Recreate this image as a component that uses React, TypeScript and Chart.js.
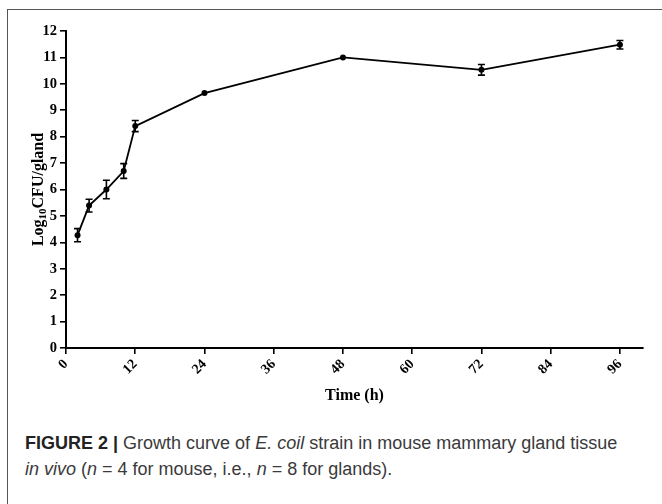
import React, { useEffect, useRef } from 'react';
import { Chart, registerables } from 'chart.js';

Chart.register(...registerables);

// ---- data ----
const timeHours = [2, 4, 7, 10, 12, 24, 48, 72, 96];
const logCfu = [4.27, 5.39, 6.0, 6.7, 8.4, 9.65, 11.0, 10.53, 11.48];
const errBars = [0.25, 0.24, 0.35, 0.28, 0.21, 0, 0, 0.2, 0.16];
const xTickValues = [0, 12, 24, 36, 48, 60, 72, 84, 96];
const yTickValues = [0, 1, 2, 3, 4, 5, 6, 7, 8, 9, 10, 11, 12];
const xTitle = 'Time (h)';
const yTitleParts = ['Log', '10', 'CFU/gland'];

const SERIF = '"Liberation Serif", "Times New Roman", serif';
const SANS = '"Liberation Sans", Arial, sans-serif';

const errorBarPlugin = {
  id: 'errorBars',
  afterDatasetsDraw(chart: any) {
    const ctx = chart.ctx;
    const meta = chart.getDatasetMeta(0);
    const yScale = chart.scales.y;
    ctx.save();
    ctx.strokeStyle = '#000';
    ctx.lineWidth = 1.6;
    meta.data.forEach((pt: any, i: number) => {
      const e = errBars[i];
      if (!e) return;
      const x = pt.x;
      const yTop = yScale.getPixelForValue(logCfu[i] + e);
      const yBot = yScale.getPixelForValue(logCfu[i] - e);
      const cap = 3.5;
      ctx.beginPath();
      ctx.moveTo(x, yTop);
      ctx.lineTo(x, yBot);
      ctx.moveTo(x - cap, yTop);
      ctx.lineTo(x + cap, yTop);
      ctx.moveTo(x - cap, yBot);
      ctx.lineTo(x + cap, yBot);
      ctx.stroke();
    });
    ctx.restore();
  },
};

const axisTitlePlugin = {
  id: 'axisTitles',
  afterDraw(chart: any) {
    const ctx = chart.ctx;
    const area = chart.chartArea;
    ctx.save();
    ctx.fillStyle = '#000';
    // x title
    ctx.font = `bold 16px ${SERIF}`;
    ctx.textAlign = 'center';
    ctx.textBaseline = 'middle';
    ctx.fillText(xTitle, (area.left + area.right) / 2, 387);
    // y title with subscript
    const big = `bold 16px ${SERIF}`;
    const small = `bold 11px ${SERIF}`;
    ctx.font = big;
    const w1 = ctx.measureText(yTitleParts[0]).width;
    const w3 = ctx.measureText(yTitleParts[2]).width;
    ctx.font = small;
    const w2 = ctx.measureText(yTitleParts[1]).width;
    const total = w1 + w2 + w3;
    ctx.translate(30, (area.top + area.bottom) / 2);
    ctx.rotate(-Math.PI / 2);
    ctx.textAlign = 'left';
    ctx.textBaseline = 'alphabetic';
    let x = -total / 2;
    ctx.font = big;
    ctx.fillText(yTitleParts[0], x, 4);
    x += w1;
    ctx.font = small;
    ctx.fillText(yTitleParts[1], x, 7);
    x += w2;
    ctx.font = big;
    ctx.fillText(yTitleParts[2], x, 4);
    ctx.restore();
  },
};

export default function App() {
  const canvasRef = useRef<HTMLCanvasElement | null>(null);

  useEffect(() => {
    const canvas = canvasRef.current;
    if (!canvas) return;
    const chart = new Chart(canvas, {
      type: 'line',
      data: {
        datasets: [
          {
            data: timeHours.map((t, i) => ({ x: t, y: logCfu[i] })),
            borderColor: '#000',
            borderWidth: 1.8,
            backgroundColor: '#000',
            pointRadius: 3,
            pointBackgroundColor: '#000',
            pointBorderWidth: 0,
            tension: 0,
          },
        ],
      },
      options: {
        animation: false,
        responsive: false,
        devicePixelRatio: 1,
        layout: { padding: { left: 0, right: 19, top: 22, bottom: 0 } },
        plugins: {
          legend: { display: false },
          tooltip: { enabled: false },
          title: { display: false },
        },
        scales: {
          x: {
            type: 'linear',
            min: 0,
            max: 100,
            afterBuildTicks: (scale: any) => {
              scale.ticks = xTickValues.map((v) => ({ value: v }));
            },
            afterFit: (scale: any) => {
              scale.height = 61;
            },
            border: { display: true, color: '#000', width: 2 },
            grid: {
              display: true,
              drawOnChartArea: false,
              drawTicks: true,
              tickLength: 6,
              color: '#000',
              lineWidth: 1.6,
            },
            ticks: {
              autoSkip: false,
              minRotation: 45,
              maxRotation: 45,
              padding: 2,
              color: '#000',
              font: { family: SERIF, size: 14, weight: 'bold' },
            },
          },
          y: {
            type: 'linear',
            min: 0,
            max: 12,
            afterBuildTicks: (scale: any) => {
              scale.ticks = yTickValues.map((v) => ({ value: v }));
            },
            afterFit: (scale: any) => {
              scale.width = 57;
            },
            border: { display: true, color: '#000', width: 2 },
            grid: {
              display: true,
              drawOnChartArea: false,
              drawTicks: true,
              tickLength: 6,
              color: '#000',
              lineWidth: 1.6,
            },
            ticks: {
              padding: 3,
              color: '#000',
              font: { family: SERIF, size: 14.5, weight: 'bold' },
            },
          },
        },
      },
      plugins: [errorBarPlugin, axisTitlePlugin],
    } as any);
    return () => chart.destroy();
  }, []);

  const captionStyle: React.CSSProperties = {
    position: 'absolute',
    left: 25,
    fontFamily: SANS,
    fontSize: 18,
    lineHeight: '22px',
    color: '#3a3a3a',
    whiteSpace: 'nowrap',
  };

  return (
    <div style={{ position: 'absolute', left: 0, top: 0, width: 662, height: 504, overflow: 'hidden', background: '#fff' }}>
      <canvas ref={canvasRef} width={653} height={400} style={{ position: 'absolute', left: 9, top: 9, width: 653, height: 400 }} />
      <div style={{ position: 'absolute', left: 7, top: 9, width: 655, height: 1, background: '#555' }} />
      <div style={{ position: 'absolute', left: 7, top: 9, width: 1, height: 495, background: '#555' }} />
      <div style={{ ...captionStyle, top: 432 }}>
        <b style={{ color: '#222' }}>FIGURE 2 |</b> Growth curve of <i>E. coil</i> strain in mouse mammary gland tissue
      </div>
      <div style={{ ...captionStyle, top: 458 }}>
        <i>in vivo</i> (<i>n</i> = 4 for mouse, i.e., <i>n</i> = 8 for glands).
      </div>
    </div>
  );
}
